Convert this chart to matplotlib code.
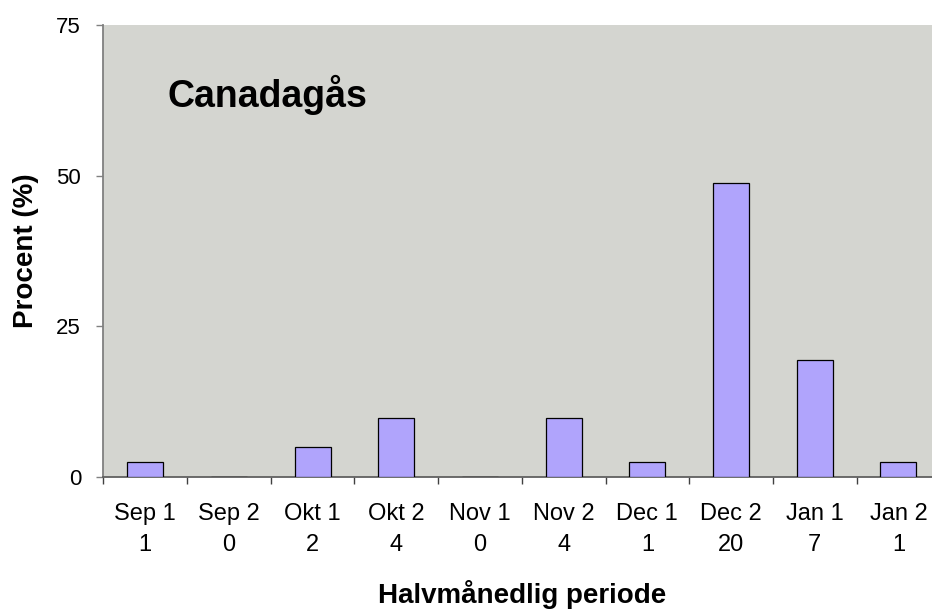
import matplotlib
matplotlib.use("Agg")
import matplotlib.pyplot as plt
import numpy as np

plt.rcParams['font.family'] = ['Liberation Sans', 'DejaVu Sans']

# data
periods = ['Sep 1', 'Sep 2', 'Okt 1', 'Okt 2', 'Nov 1', 'Nov 2', 'Dec 1', 'Dec 2', 'Jan 1', 'Jan 2']
counts = [1, 0, 2, 4, 0, 4, 1, 20, 7, 1]
percent = [2.4, 0, 4.9, 9.7, 0, 9.7, 2.4, 48.8, 19.4, 2.4]

fig = plt.figure(figsize=(9.32, 6.15), dpi=100)
ax = fig.add_axes([103.3 / 932, (615 - 476.7) / 615, 837 / 932, 451.7 / 615])
ax.set_facecolor('#D4D5D0')

x = np.arange(len(periods))
ax.bar(x, percent, width=0.43, color='#B0A4FC', edgecolor='black', linewidth=0.9, zorder=3)

ax.set_xlim(-0.5, len(periods) - 0.5)
ax.set_ylim(0, 75)
ax.set_yticks([0, 25, 50, 75])

# ticks on category boundaries, labels in the middle
ax.set_xticks(np.arange(-0.5, len(periods), 1.0))
ax.set_xticklabels([])
ax.set_xticks(x, minor=True)
ax.set_xticklabels([p + '\n' + str(c) for p, c in zip(periods, counts)], minor=True,
                   fontsize=17, linespacing=1.55)
ax.tick_params(axis='x', which='major', length=5, width=1, color='#404040', direction='out')
ax.tick_params(axis='x', which='minor', length=0, pad=19)
ax.tick_params(axis='y', length=5, width=1, color='#808080', labelsize=16, pad=11)

for s in ['top', 'right']:
    ax.spines[s].set_visible(False)
ax.spines['left'].set_color('#808080')
ax.spines['left'].set_linewidth(1.3)
ax.spines['bottom'].set_color('#606060')
ax.spines['bottom'].set_linewidth(1.3)

ax.set_ylabel('Procent (%)', fontsize=20, fontweight='bold')
ax.yaxis.set_label_coords(-0.077, 0.5)
ax.set_xlabel('Halvmånedlig periode', fontsize=20, fontweight='bold', labelpad=17)

ax.text(0.077, 0.818, 'Canadagås', transform=ax.transAxes, fontsize=27,
        fontweight='bold', va='baseline', ha='left')

fig.savefig('out.png', dpi=100)
